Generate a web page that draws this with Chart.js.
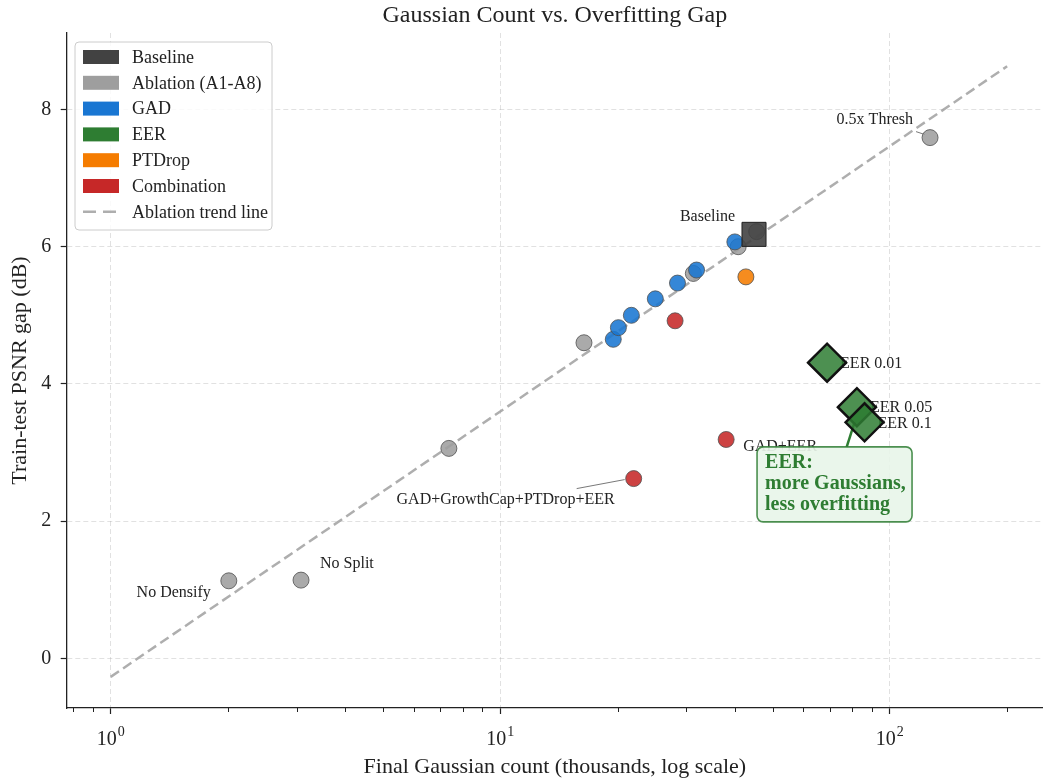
<!DOCTYPE html>
<html>
<head>
<meta charset="utf-8">
<script src="https://cdn.jsdelivr.net/npm/chart.js@4"></script>
<style>
  html, body { margin: 0; padding: 0; background: #fff; }
  canvas { display: block; }
</style>
</head>
<body>
<canvas id="chart" width="1043" height="780"></canvas>
<script>
// x = final Gaussian count (thousands), y = train-test PSNR gap (dB)
const ablationX = [2.01, 3.08, 7.38, 16.4, 31.3, 40.8, 45.5, 126.8];
const ablationY = [1.13, 1.14, 3.06, 4.60, 5.61, 6.00, 6.22, 7.59];
const ablationNames = ['No Densify', 'No Split', '', '', '', '', '', '0.5x Thresh'];

const baselineX = [44.8];
const baselineY = [6.18];
const baselineNames = ['Baseline'];

const gadX = [19.5, 20.1, 21.7, 25.0, 28.5, 31.9, 40.0];
const gadY = [4.65, 4.82, 5.00, 5.24, 5.47, 5.66, 6.07];

const eerX = [69.0, 82.3, 86.1];
const eerY = [4.31, 3.66, 3.44];
const eerNames = ['EER 0.01', 'EER 0.05', 'EER 0.1'];

const ptdropX = [42.7];
const ptdropY = [5.56];

const comboX = [28.1, 38.0, 22.0];
const comboY = [4.92, 3.19, 2.62];
const comboNames = ['', 'GAD+EER', 'GAD+GrowthCap+PTDrop+EER'];

const trendX = [1, 200];
const trendY = [-0.27, 8.63];

const xTicks = [1, 10, 100];
const yTicks = [0, 2, 4, 6, 8];

const legendOrder = ['Baseline', 'Ablation (A1-A8)', 'GAD', 'EER', 'PTDrop', 'Combination', 'Ablation trend line'];

const serif = "'Liberation Serif', 'Times New Roman', serif";
const ink = '#222222';

const pts = (xs, ys) => xs.map((x, i) => ({ x, y: ys[i] }));

// where each point label sits relative to its marker (pixels)
const labelOffsets = {
  'No Densify': { dx: -18, dy: 12, align: 'right' },
  'No Split': { dx: 19, dy: -16, align: 'left' },
  '0.5x Thresh': { dx: -17, dy: -18, align: 'right', lead: [-14, -6, -5, -3] },
  'Baseline': { dx: -19, dy: -18, align: 'right' },
  'GAD+EER': { dx: 17, dy: 7, align: 'left' },
  'GAD+GrowthCap+PTDrop+EER': { dx: -19, dy: 21, align: 'right', lead: [-57, 10, -9, 1] },
  'EER 0.01': { dx: 13, dy: 1, align: 'left' },
  'EER 0.05': { dx: 13, dy: 1, align: 'left' },
  'EER 0.1': { dx: 13, dy: 1, align: 'left' },
};

function roundRect(ctx, x, y, w, h, r) {
  ctx.beginPath();
  ctx.moveTo(x + r, y);
  ctx.arcTo(x + w, y, x + w, y + h, r);
  ctx.arcTo(x + w, y + h, x, y + h, r);
  ctx.arcTo(x, y + h, x, y, r);
  ctx.arcTo(x, y, x + w, y, r);
  ctx.closePath();
}

const overlay = {
  id: 'overlay',
  beforeDatasetsDraw(chart) {
    const { ctx, scales: { x, y } } = chart;
    ctx.save();
    ctx.font = `16px ${serif}`;
    ctx.fillStyle = ink;
    ctx.textBaseline = 'middle';
    const tag = (xs, ys, names) => names.forEach((name, i) => {
      if (!name) return;
      const o = labelOffsets[name];
      const px = x.getPixelForValue(xs[i]);
      const py = y.getPixelForValue(ys[i]);
      ctx.textAlign = o.align;
      ctx.fillText(name, px + o.dx, py + o.dy);
      if (o.lead) {
        ctx.beginPath();
        ctx.moveTo(px + o.lead[0], py + o.lead[1]);
        ctx.lineTo(px + o.lead[2], py + o.lead[3]);
        ctx.strokeStyle = '#555';
        ctx.lineWidth = 0.8;
        ctx.stroke();
      }
    });
    tag(ablationX, ablationY, ablationNames);
    tag(baselineX, baselineY, baselineNames);
    tag(comboX, comboY, comboNames);
    tag(eerX, eerY, eerNames);

    // arrow from the note up to the EER 0.1 marker
    const ax = x.getPixelForValue(eerX[2]);
    const ay = y.getPixelForValue(eerY[2]);
    ctx.beginPath();
    ctx.moveTo(ax - 18, ay + 25);
    ctx.lineTo(ax - 10, ay);
    ctx.strokeStyle = '#2E7D32';
    ctx.lineWidth = 2.5;
    ctx.stroke();
    ctx.restore();
  },
  afterDatasetsDraw(chart) {
    const { ctx, scales: { x, y } } = chart;
    const ax = x.getPixelForValue(eerX[2]);
    const ay = y.getPixelForValue(eerY[2]);
    ctx.save();
    roundRect(ctx, ax - 107.5, ay + 24.5, 155, 75, 6);
    ctx.fillStyle = 'rgba(232,245,233,0.92)';
    ctx.fill();
    ctx.strokeStyle = 'rgba(46,125,50,0.85)';
    ctx.lineWidth = 1.6;
    ctx.stroke();
    ctx.fillStyle = '#2E7D32';
    ctx.font = `bold 20px ${serif}`;
    ctx.textAlign = 'left';
    ctx.textBaseline = 'middle';
    ['EER:', 'more Gaussians,', 'less overfitting'].forEach((line, i) => {
      ctx.fillText(line, ax - 99.5, ay + 40 + i * 21.2);
    });
    ctx.restore();
  },
  afterDraw(chart) {
    const { ctx, chartArea: area, scales: { x } } = chart;
    ctx.save();
    // minor ticks on the log axis
    ctx.strokeStyle = ink;
    ctx.lineWidth = 1;
    [0.1, 1, 10, 100].forEach(d => {
      for (let k = 2; k <= 9; k++) {
        const v = k * d;
        if (v < x.min || v > x.max) continue;
        const px = Math.round(x.getPixelForValue(v)) + 0.5;
        ctx.beginPath();
        ctx.moveTo(px, area.bottom);
        ctx.lineTo(px, area.bottom + 4);
        ctx.stroke();
      }
    });
    // 10^n tick labels
    ctx.fillStyle = ink;
    ctx.textAlign = 'left';
    ctx.textBaseline = 'alphabetic';
    xTicks.forEach(v => {
      const px = x.getPixelForValue(v);
      const exp = String(Math.round(Math.log10(v)));
      ctx.font = `20px ${serif}`;
      const w1 = ctx.measureText('10').width;
      ctx.font = `14px ${serif}`;
      const w2 = ctx.measureText(exp).width;
      const start = px - (w1 + w2 + 1) / 2;
      ctx.font = `20px ${serif}`;
      ctx.fillText('10', start, area.bottom + 37);
      ctx.font = `14px ${serif}`;
      ctx.fillText(exp, start + w1 + 1, area.bottom + 28);
    });

    // legend box, top left inside the axes
    const lx = area.left + 8.3;
    const ly = area.top + 9;
    roundRect(ctx, lx, ly, 197, 188, 4);
    ctx.fillStyle = 'rgba(255,255,255,0.85)';
    ctx.fill();
    ctx.strokeStyle = '#cccccc';
    ctx.lineWidth = 1;
    ctx.stroke();
    ctx.font = `18px ${serif}`;
    ctx.textBaseline = 'middle';
    legendOrder.forEach((name, i) => {
      const ds = chart.data.datasets.find(d => d.label === name);
      const cy = ly + 15 + i * 25.8;
      if (ds.type === 'line') {
        ctx.beginPath();
        ctx.setLineDash([13, 7]);
        ctx.moveTo(lx + 8, cy);
        ctx.lineTo(lx + 44, cy);
        ctx.strokeStyle = ds.borderColor;
        ctx.lineWidth = 2.5;
        ctx.stroke();
        ctx.setLineDash([]);
      } else {
        ctx.fillStyle = ds.swatch;
        ctx.fillRect(lx + 8, cy - 7, 36, 14);
      }
      ctx.fillStyle = ink;
      ctx.fillText(name, lx + 57, cy + 1);
    });
    ctx.restore();
  },
};

const dot = (color) => ({
  pointStyle: 'circle',
  pointRadius: 8,
  backgroundColor: color,
  borderColor: 'rgba(80,80,80,0.8)',
  borderWidth: 1,
});

new Chart(document.getElementById('chart'), {
  type: 'scatter',
  data: {
    datasets: [
      { label: 'EER', data: pts(eerX, eerY), swatch: '#2E7D32', pointStyle: 'rectRot', pointRadius: 19,
        backgroundColor: 'rgba(46,125,50,0.85)', borderColor: '#111', borderWidth: 2.5, order: 0 },
      { label: 'Baseline', data: pts(baselineX, baselineY), swatch: '#424242', pointStyle: 'rect', pointRadius: 17,
        backgroundColor: 'rgba(66,66,66,0.9)', borderColor: '#222', borderWidth: 1, order: 1 },
      { label: 'Combination', data: pts(comboX, comboY), swatch: '#C62828', ...dot('rgba(198,40,40,0.88)'), order: 2 },
      { label: 'PTDrop', data: pts(ptdropX, ptdropY), swatch: '#F57C00', ...dot('rgba(245,124,0,0.88)'), order: 3 },
      { label: 'GAD', data: pts(gadX, gadY), swatch: '#1976D2', ...dot('rgba(25,118,210,0.88)'), order: 4 },
      { label: 'Ablation (A1-A8)', data: pts(ablationX, ablationY), swatch: '#9E9E9E', ...dot('rgba(158,158,158,0.88)'), order: 5 },
      { type: 'line', label: 'Ablation trend line', data: pts(trendX, trendY), borderColor: 'rgba(160,160,160,0.85)',
        borderWidth: 2.5, borderDash: [10, 5], pointRadius: 0, fill: false, order: 6 },
    ],
  },
  options: {
    responsive: false,
    animation: false,
    layout: { padding: 0, autoPadding: false },
    plugins: {
      legend: { display: false },
      tooltip: { enabled: false },
      title: {
        display: true,
        text: 'Gaussian Count vs. Overfitting Gap',
        fullSize: false,
        color: ink,
        font: { family: serif, size: 24, weight: 'normal', lineHeight: 1.2 },
        padding: { top: 1.5, bottom: 2.7 },
      },
    },
    scales: {
      x: {
        type: 'logarithmic',
        min: 0.7711,
        max: 247.2,
        afterBuildTicks: (s) => { s.ticks = xTicks.map(v => ({ value: v, major: true })); },
        afterFit: (s) => { s.height = 72; },
        ticks: { display: false },
        grid: { color: 'rgba(170,170,170,0.35)', lineWidth: 1, tickColor: ink, tickLength: 6, tickWidth: 1.2 },
        border: { color: ink, width: 1.3, dash: [5, 3] },
        title: {
          display: true,
          text: 'Final Gaussian count (thousands, log scale)',
          color: ink,
          font: { family: serif, size: 22, lineHeight: 1.2 },
          padding: { top: 0, bottom: 0 },
        },
      },
      y: {
        min: -0.724,
        max: 9.115,
        afterBuildTicks: (s) => { s.ticks = yTicks.map(v => ({ value: v })); },
        afterFit: (s) => { s.width = 66.7; },
        ticks: { color: ink, font: { family: serif, size: 20 }, padding: 9.5 },
        grid: { color: 'rgba(170,170,170,0.35)', lineWidth: 1, tickColor: ink, tickLength: 6, tickWidth: 1.2 },
        border: { color: ink, width: 1.3, dash: [5, 3] },
        title: {
          display: true,
          text: 'Train-test PSNR gap (dB)',
          color: ink,
          font: { family: serif, size: 22, lineHeight: 1.2 },
          padding: { top: 7, bottom: 0 },
        },
      },
    },
  },
  plugins: [overlay],
});
</script>
</body>
</html>
